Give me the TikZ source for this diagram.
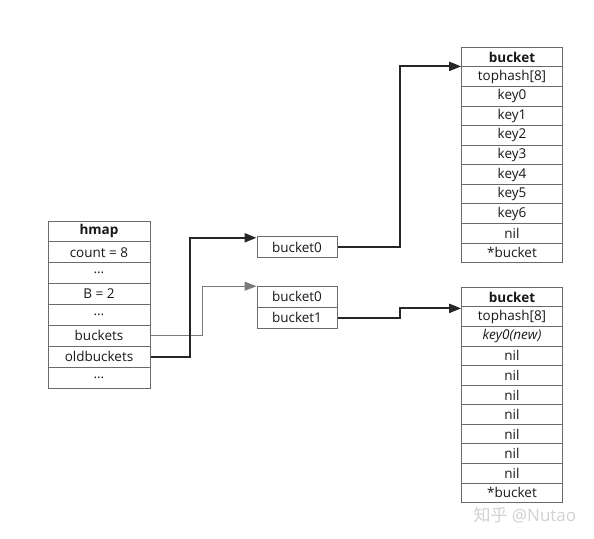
\documentclass[tikz,border=0pt]{standalone}
\usepackage{fontspec}
\setmainfont{Open Sans}
\newfontfamily\cjk{Noto Sans CJK SC}
\usetikzlibrary{arrows.meta}
\definecolor{boxgray}{HTML}{6A6A6A}
\definecolor{linedark}{HTML}{262626}
\definecolor{linegray}{HTML}{7A7A7A}
\definecolor{wmgray}{HTML}{D2D2D2}
\begin{document}
\begin{tikzpicture}[x=1pt,y=-1pt,
  cellbase/.style={draw=boxgray, line width=1pt, fill=white, inner sep=0pt,
    font=\fontsize{13.5}{15}\selectfont, text=black!90},
  hcell/.style={cellbase, minimum width=102pt, minimum height=20.875pt},
  scell/.style={cellbase, minimum width=80pt, minimum height=21pt},
  bcell/.style={cellbase, minimum width=100.6pt, minimum height=19.58pt},
  strong/.style={draw=linedark, line width=2pt, -{Triangle[length=12pt,width=9pt]}},
  weak/.style={draw=linegray, line width=1pt, -{Triangle[length=12pt,width=9pt]}},
  wm/.style={text=wmgray, font=\fontsize{17}{19}\selectfont}
]
\useasboundingbox (0,0) rectangle (594,538);
\fill[white] (0,0) rectangle (594,538);

% hmap
\foreach \t [count=\i from 0] in {\textbf{hmap},count = 8,\dots,B = 2,\dots,buckets,oldbuckets,\dots}
  \node[hcell] (h\i) at (99,{221+20.875*(\i+0.5)}) {\t};

% bucket arrays
\node[scell] (b0) at (297,247) {bucket0};
\node[scell] (n0) at (297,296.5) {bucket0};
\node[scell] (n1) at (297,317.5) {bucket1};

% top bucket
\foreach \t [count=\i from 0] in {\textbf{bucket},tophash[8],key0,key1,key2,key3,key4,key5,key6,nil,*bucket}
  \node[bcell] (t\i) at (512,{47.3+19.58*(\i+0.5)}) {\t};

% bottom bucket
\foreach \t [count=\i from 0] in {\textbf{bucket},tophash[8],\textit{key0(new)},nil,nil,nil,nil,nil,nil,nil,*bucket}
  \node[bcell] (u\i) at (512,{287.3+19.58*(\i+0.5)}) {\t};

% connectors
\draw[weak] (h5.east) -| ([xshift=-54pt,yshift=-0.7pt]n0.north west) -- ([yshift=-0.7pt]n0.north west);
\draw[strong] (h6.east) -| ([xshift=-66.5pt,yshift=-1.8pt]b0.north west) -- ([yshift=-1.8pt]b0.north west);
\draw[strong] (b0.east) -| ([xshift=-61.5pt]t1.north west) -- (t1.north west);
\draw[strong] (n1.east) -| ([xshift=-61.5pt,yshift=-2pt]u1.north west) -- ([yshift=-2pt]u1.north west);

% watermark
\node[wm, anchor=west] (mark) at (470,515) {{\cjk 知乎} @Nutao};
\end{tikzpicture}
\end{document}
